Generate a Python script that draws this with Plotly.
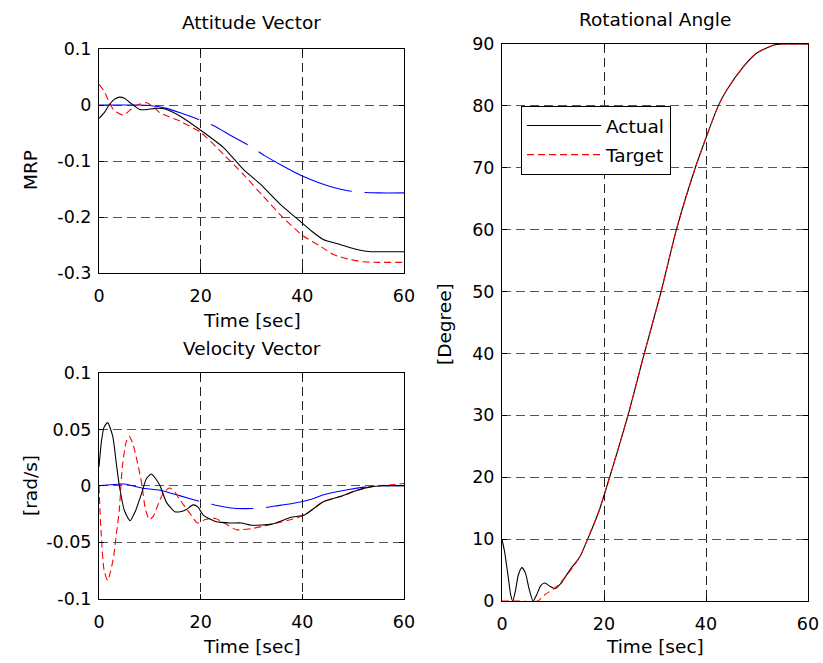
import plotly.graph_objects as go

# ---- Attitude vector (MRP) ----
att_t_actual = [0, 1, 2, 3, 4, 5, 6, 7, 8, 9.5, 11, 13, 16, 20, 24.5, 28.4, 31.7, 35.6, 39.5,
                41.8, 44.1, 47.4, 50.7, 53.6, 57, 60]
att_actual = [-0.024, -0.014, 0.0, 0.010, 0.014, 0.012, 0.005, -0.002, -0.008, -0.008, -0.006,
              -0.007, -0.020, -0.045, -0.076, -0.115, -0.141, -0.177, -0.207,
              -0.225, -0.240, -0.249, -0.258, -0.262, -0.262, -0.262]

att_t_target = [0, 1, 2, 3, 4.8, 6, 7.5, 9.4, 11, 12, 16, 20, 24.5, 28.4, 32.3, 36.2, 40.2,
                43.5, 46.1, 49.4, 52, 55, 60]
att_target = [0.037, 0.025, 0.005, -0.010, -0.018, -0.010, 0.0, 0.004, -0.006, -0.014, -0.029,
              -0.049, -0.088, -0.124, -0.163, -0.201, -0.234, -0.252, -0.267, -0.276, -0.280,
              -0.281, -0.281]

att_t_third = [0, 5, 8, 10, 13.3, 16, 19.9, 22.6, 26, 30, 32.5, 36, 39.8, 43, 46, 49, 52, 55, 60]
att_third = [0.0, 0.0, 0.0, -0.001, -0.006, -0.014, -0.027, -0.037, -0.055, -0.075, -0.090,
             -0.108, -0.126, -0.138, -0.147, -0.153, -0.156, -0.157, -0.157]

# ---- Velocity vector ----
vel_t_actual = [0, 0.5, 1, 1.7, 2.7, 3.4, 4, 5, 6.1, 7.2, 8.4, 9.3, 10.3, 11.2, 12, 13.3, 14.9,
                16, 17.2, 18.5, 19.5, 20.5, 23.1, 26, 28, 30, 34, 37.8, 40.4, 44.2, 47.5, 50.8,
                53.4, 56, 60]
vel_actual = [0.017, 0.040, 0.052, 0.056, 0.044, 0.020, 0.0, -0.022, -0.031, -0.022, -0.0065,
              0.006, 0.0104, 0.006, 0.0, -0.015, -0.023, -0.023, -0.021, -0.017, -0.019, -0.026,
              -0.032, -0.033, -0.033, -0.035, -0.034, -0.028, -0.026, -0.014, -0.0095, -0.004,
              -0.001, 0.0, 0.0]

vel_t_target = [0, 0.4, 1, 1.7, 2.8, 3.5, 4.0, 4.6, 5.3, 5.9, 6.6, 7.3, 8.4, 9.1, 9.9, 10.7,
                11.5, 12.7, 13.9, 15, 15.9, 17.8, 19.4, 20.9, 22.9, 25, 27, 30, 32.2, 35, 37.8,
                40.4, 44.2, 47.5, 50.8, 53.4, 55, 58, 60]
vel_target = [0.0, -0.040, -0.075, -0.084, -0.065, -0.040, -0.021, 0.017, 0.038, 0.044, 0.038,
              0.026, 0.002, -0.020, -0.030, -0.027, -0.018, -0.006, -0.002, -0.006, -0.0124,
              -0.024, -0.033, -0.030, -0.029, -0.034, -0.039, -0.038, -0.036, -0.033, -0.030,
              -0.026, -0.014, -0.0095, -0.004, -0.001, 0.0, 0.001, 0.002]

vel_t_third = [0, 5, 8.4, 12, 16, 19.9, 22.7, 26.6, 31.6, 34.6, 37.8, 41.8, 44.2, 48.9, 52.5, 55, 60]
vel_third = [0.0, 0.0015, -0.002, -0.004, -0.009, -0.014, -0.017, -0.020, -0.020, -0.018, -0.016,
             -0.012, -0.008, -0.0035, -0.001, 0.0, 0.0]

# ---- Rotational angle ----
rot_t_actual = [0, 0.5, 1.2, 1.7, 2.1, 2.6, 3.2, 3.9, 4.6, 5.3, 6.1, 6.8, 7.6, 8.4, 9.4, 10.4,
                11.5, 13.3, 15.3, 16.8, 19, 21.1, 24.7, 27.9, 31.2, 34.2, 37.9, 42.4, 44.1,
                47.3, 49.9, 53.2, 55, 60]
rot_actual = [9.9, 8.0, 4.0, 1.0, 0.0, 1.5, 4.2, 5.4, 4.5, 2.0, 0.0, 1.0, 2.5, 2.9, 2.4, 2.0,
              2.8, 5.0, 7.2, 10.0, 14.5, 20.0, 30.0, 40.0, 50.0, 60.0, 70.0, 80.0, 82.6,
              86.3, 88.5, 89.8, 90.0, 90.0]

rot_t_target = [0, 3, 7, 8.4, 10.7, 13.3, 15.3, 16.8, 19, 21.1, 24.7, 27.9, 31.2, 34.2, 37.9,
                42.4, 44.1, 47.3, 49.9, 53.2, 55, 60]
rot_target = [0.0, 0.0, 0.0, 1.0, 2.3, 4.8, 7.2, 10.0, 14.5, 20.0, 30.0, 40.0, 50.0, 60.0, 70.0,
              80.0, 82.6, 86.3, 88.5, 89.8, 90.0, 90.0]

x_ticks = [0, 20, 40, 60]
att_ticks = [0.1, 0, -0.1, -0.2, -0.3]
att_ticktext = ["0.1", "0", "-0.1", "-0.2", "-0.3"]
vel_ticks = [0.1, 0.05, 0, -0.05, -0.1]
vel_ticktext = ["0.1", "0.05", "0", "-0.05", "-0.1"]
rot_ticks = [0, 10, 20, 30, 40, 50, 60, 70, 80, 90]

FONT = "DejaVu Sans"
W, H = 823, 663

black = dict(color="black", width=1.1, shape="spline", smoothing=0.6)
red = dict(color="red", width=1.1, dash="7px,4px", shape="spline", smoothing=0.6)
blue = dict(color="blue", width=1.1, dash="102px,13px,42px,13px", shape="spline", smoothing=0.6)

fig = go.Figure()
# attitude panel
fig.add_trace(go.Scatter(x=att_t_third, y=att_third, mode="lines", line=blue,
                         xaxis="x", yaxis="y", showlegend=False))
fig.add_trace(go.Scatter(x=att_t_target, y=att_target, mode="lines", line=red,
                         xaxis="x", yaxis="y", showlegend=False))
fig.add_trace(go.Scatter(x=att_t_actual, y=att_actual, mode="lines", line=black,
                         xaxis="x", yaxis="y", showlegend=False))
# velocity panel
fig.add_trace(go.Scatter(x=vel_t_third, y=vel_third, mode="lines", line=blue,
                         xaxis="x2", yaxis="y2", showlegend=False))
fig.add_trace(go.Scatter(x=vel_t_target, y=vel_target, mode="lines", line=red,
                         xaxis="x2", yaxis="y2", showlegend=False))
fig.add_trace(go.Scatter(x=vel_t_actual, y=vel_actual, mode="lines", line=black,
                         xaxis="x2", yaxis="y2", showlegend=False))
# rotational angle panel
fig.add_trace(go.Scatter(x=rot_t_actual, y=rot_actual, mode="lines", line=black, name="Actual",
                         legendgroup="a", xaxis="x3", yaxis="y3"))
fig.add_trace(go.Scatter(x=rot_t_target, y=rot_target, mode="lines", line=red, name="Target",
                         legendgroup="b", xaxis="x3", yaxis="y3"))


def px_x(p):
    return p / W


def px_y(p):
    return 1 - p / H


def xaxis(domain, anchor):
    return dict(domain=domain, anchor=anchor, range=[0, 60], tickvals=x_ticks,
                ticks="inside", ticklen=5, tickcolor="black", showline=True, linecolor="black",
                linewidth=1, mirror="ticks", showgrid=True, gridcolor="#222", griddash="9px,5px",
                gridwidth=1, zeroline=False, ticklabelstandoff=7, automargin=False,
                tickfont=dict(family=FONT, size=17.5, color="black"))


def yaxis(domain, anchor, rng, vals, text):
    return dict(domain=domain, anchor=anchor, range=rng, tickvals=vals, ticktext=text,
                ticks="inside", ticklen=5, tickcolor="black", showline=True, linecolor="black",
                linewidth=1, mirror="ticks", showgrid=True, gridcolor="#555", griddash="9px,5px",
                gridwidth=1, zeroline=False, ticklabelstandoff=3, automargin=False,
                tickfont=dict(family=FONT, size=17.5, color="black"))


left_dom = [px_x(99), px_x(404)]
right_dom = [px_x(502), px_x(808)]

fig.update_layout(
    width=W, height=H,
    margin=dict(l=0, r=0, t=0, b=0, autoexpand=False),
    paper_bgcolor="white", plot_bgcolor="white",
    font=dict(family=FONT, size=18.5, color="black"),
    xaxis=xaxis(left_dom, "y"),
    yaxis=yaxis([px_y(273), px_y(49)], "x", [-0.3, 0.1], att_ticks, att_ticktext),
    xaxis2=xaxis(left_dom, "y2"),
    yaxis2=yaxis([px_y(598.5), px_y(373)], "x2", [-0.1, 0.1], vel_ticks, vel_ticktext),
    xaxis3=xaxis(right_dom, "y3"),
    yaxis3=yaxis([px_y(601), px_y(44)], "x3", [0, 90], rot_ticks, [str(v) for v in rot_ticks]),
    legend=dict(x=px_x(521), y=px_y(106), xanchor="left", yanchor="top",
                bgcolor="white", bordercolor="black", borderwidth=1,
                font=dict(family=FONT, size=18.5, color="black"),
                itemwidth=74, traceorder="grouped", tracegroupgap=2),
    showlegend=True,
)

labels = [
    ("Attitude Vector", 251.5, 23, 0),
    ("Time [sec]", 251.5, 320, 0),
    ("Velocity Vector", 251.5, 348, 0),
    ("Time [sec]", 251.5, 646, 0),
    ("Rotational Angle", 655, 19, 0),
    ("Time [sec]", 655, 646, 0),
    ("MRP", 31, 170, -90),
    ("[rad/s]", 31, 486, -90),
    ("[Degree]", 444, 324, -90),
]
for text, x, y, ang in labels:
    fig.add_annotation(text=text, x=px_x(x), y=px_y(y), xref="paper", yref="paper",
                       xanchor="center", yanchor="middle", showarrow=False, textangle=ang,
                       font=dict(family=FONT, size=18.5, color="black"))

fig.write_html("out.html")
